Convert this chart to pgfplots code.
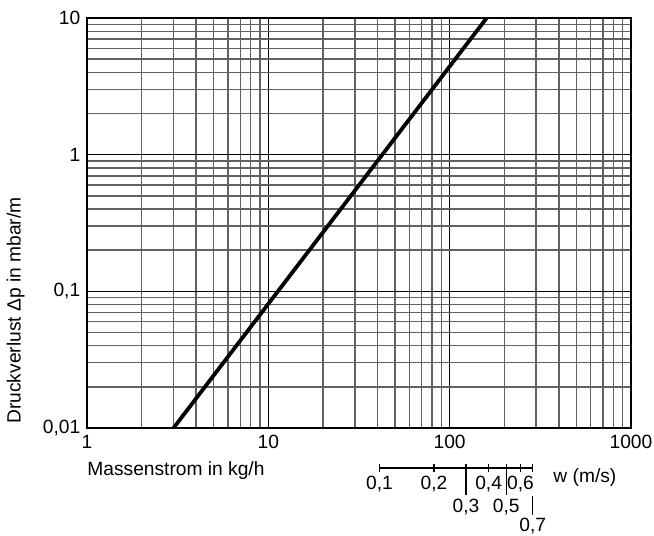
\documentclass[border=0pt]{standalone}
\usepackage{fontspec}
\setmainfont{Liberation Sans}
\usepackage{pgfplots}
\pgfplotsset{compat=1.18}

\begin{document}
\fontsize{9.6}{11.5}\selectfont
\begin{tikzpicture}
% picture frame: 654 x 536 px at 0.5pt per px, origin at axis lower left
\useasboundingbox (-43.5pt,-54pt) rectangle (283.5pt,214pt);

\begin{axis}[
    name=main,
    at={(0,0)}, anchor=south west,
    scale only axis, width=272pt, height=205pt,
    xmode=log, ymode=log,
    xmin=1, xmax=1000, ymin=0.01, ymax=10,
    xtick={1,10,100,1000}, xticklabels={1,10,100,1000},
    ytick={0.01,0.1,1,10}, yticklabels={{0,01},{0,1},1,10},
    grid=both,
    major grid style={black, line width=0.65pt},
    minor grid style={black!62, line width=0.7pt},
    major tick length=0pt, minor tick length=0pt,
    axis line style={black, line width=0.65pt},
    tick label style={font=\fontsize{9.6}{11.5}\selectfont},
    xlabel={Massenstrom in kg/h},
    every axis x label/.style={at={([yshift=-21.5pt]axis description cs:0,0)}, anchor=west, inner sep=0pt},
    ylabel={Druckverlust Δp in mbar/m},
    every axis y label/.style={at={([xshift=-31pt,yshift=2pt]axis description cs:0,0)}, rotate=90, anchor=south west, inner sep=0pt},
]
\addplot[black, line width=1.9pt] coordinates {(3,0.01) (160,10)};
\end{axis}

% velocity scale w (m/s), w = massflow / 410
\begin{axis}[
    at={(main.south west)}, anchor=north west,
    scale only axis, width=272pt, height=54pt,
    xmode=log, xmin=0.002439, xmax=2.439,
    ymin=0, ymax=108, y dir=reverse,
    hide axis, clip=false,
]
\addplot[black, line width=0.6pt] coordinates {(0.1,40) (0.7,40)};
\addplot[black, line width=0.6pt] coordinates {(0.1,36) (0.1,44)};
\addplot[black, line width=0.6pt] coordinates {(0.2,36) (0.2,44)};
\addplot[black, line width=0.6pt] coordinates {(0.3,36) (0.3,67)};
\addplot[black, line width=0.6pt] coordinates {(0.4,36) (0.4,44)};
\addplot[black, line width=0.6pt] coordinates {(0.5,36) (0.5,67)};
\addplot[black, line width=0.6pt] coordinates {(0.6,36) (0.6,44)};
\addplot[black, line width=0.6pt] coordinates {(0.7,36) (0.7,44)};
\addplot[black, line width=0.6pt] coordinates {(0.7,68) (0.7,87)};
\node[anchor=base] at (axis cs:0.1,61) {0,1};
\node[anchor=base] at (axis cs:0.2,61) {0,2};
\node[anchor=base] at (axis cs:0.4,61) {0,4};
\node[anchor=base] at (axis cs:0.6,61) {0,6};
\node[anchor=base] at (axis cs:0.3,84) {0,3};
\node[anchor=base] at (axis cs:0.5,84) {0,5};
\node[anchor=base] at (axis cs:0.7,103) {0,7};
\node[anchor=base west, inner sep=0pt] at (axis cs:0.907,54) {w (m/s)};
\end{axis}
\end{tikzpicture}
\end{document}
